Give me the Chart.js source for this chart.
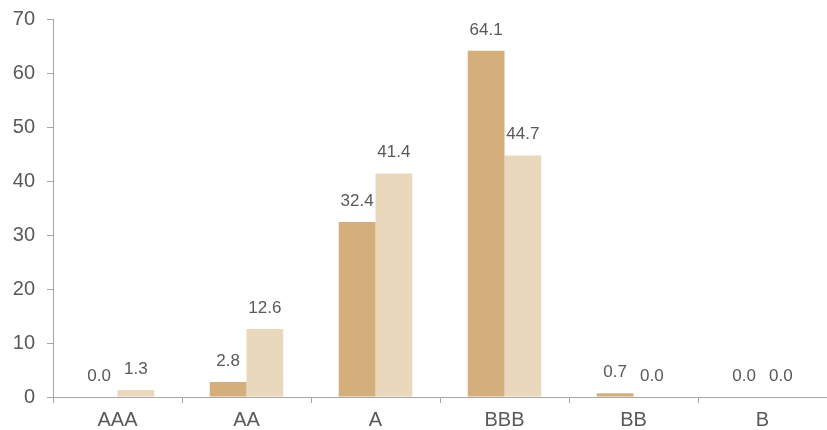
<!DOCTYPE html>
<html>
<head>
<meta charset="utf-8">
<script src="https://cdn.jsdelivr.net/npm/chart.js@4"></script>
<style>
  html, body { margin: 0; padding: 0; background: #ffffff; }
  #wrap { width: 827px; height: 430px; }
</style>
</head>
<body>
<div id="wrap"><canvas id="c" width="827" height="430"></canvas></div>
<script>
const categories = ["AAA", "AA", "A", "BBB", "BB", "B"];
const seriesA = [0.0, 2.8, 32.4, 64.1, 0.7, 0.0];
const seriesB = [1.3, 12.6, 41.4, 44.7, 0.0, 0.0];
const yTicks = [0, 10, 20, 30, 40, 50, 60, 70];

const textColor = "#595959";
const axisColor = "#a6a6a6";
const fontFamily = "'Liberation Sans', Arial, sans-serif";

const valueLabels = {
  id: "valueLabels",
  afterDatasetsDraw(chart) {
    const ctx = chart.ctx;
    ctx.save();
    ctx.font = "17px " + fontFamily;
    ctx.fillStyle = textColor;
    ctx.textAlign = "center";
    ctx.textBaseline = "middle";
    chart.data.datasets.forEach((ds, i) => {
      const meta = chart.getDatasetMeta(i);
      meta.data.forEach((bar, j) => {
        const v = ds.data[j];
        ctx.fillText(v.toFixed(1), bar.x, bar.y - 21);
      });
    });
    ctx.restore();
  }
};

new Chart(document.getElementById("c"), {
  type: "bar",
  data: {
    labels: categories,
    datasets: [
      { data: seriesA, backgroundColor: "#d4af7c", categoryPercentage: 0.57, barPercentage: 1.0 },
      { data: seriesB, backgroundColor: "#ead8bd", categoryPercentage: 0.57, barPercentage: 1.0 }
    ]
  },
  options: {
    responsive: false,
    animation: false,
    layout: { padding: { top: 19, right: 0, bottom: 0, left: 0 } },
    plugins: { legend: { display: false }, tooltip: { enabled: false } },
    scales: {
      x: {
        offset: true,
        grid: { display: true, drawOnChartArea: false, drawTicks: true, tickLength: 6, color: axisColor, offset: true },
        border: { display: true, color: axisColor, width: 1 },
        ticks: { color: textColor, font: { size: 20, family: fontFamily }, padding: 5 },
        afterFit(scale) { scale.height = 33; scale.paddingLeft = 0; scale.paddingRight = 0; }
      },
      y: {
        min: 0,
        max: 70,
        afterBuildTicks(scale) { scale.ticks = yTicks.map(v => ({ value: v })); },
        grid: { display: true, drawOnChartArea: false, drawTicks: true, tickLength: 6, color: axisColor },
        border: { display: true, color: axisColor, width: 1 },
        ticks: { color: textColor, font: { size: 20, family: fontFamily }, padding: 12 },
        afterFit(scale) { scale.width = 53; scale.paddingTop = 0; scale.paddingBottom = 0; }
      }
    }
  },
  plugins: [valueLabels]
});
</script>
</body>
</html>
